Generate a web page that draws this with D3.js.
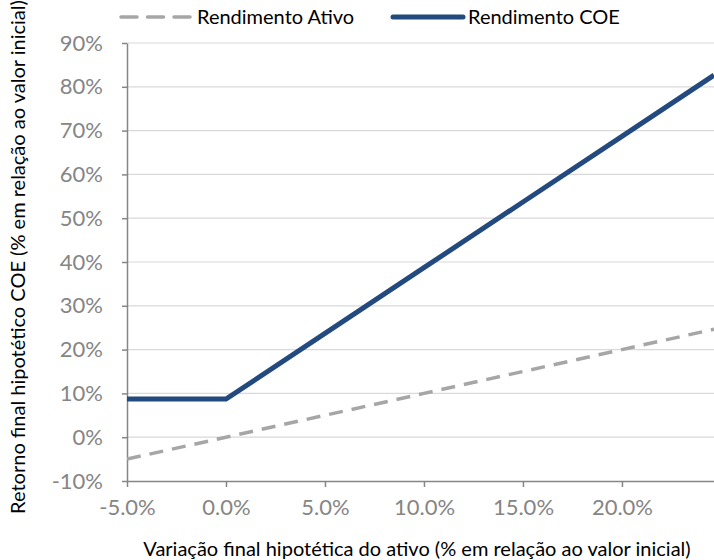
<!DOCTYPE html>
<html><head><meta charset="utf-8">
<script src="https://cdn.jsdelivr.net/npm/d3@7"></script>
<style>body{margin:0;background:#fff;} text{font-family:Lato,"Open Sans",sans-serif;}</style>
</head><body><svg id="c" width="714" height="560"></svg>
<script>
const variacao = [-5, 0, 5, 10, 15, 20, 24.65];
const rendAtivo = [-5, 0, 5, 10, 15, 20, 24.65];
const rendCOE = [8.7, 8.7, 23.7, 38.7, 53.7, 68.7, 82.65];
const yTicks = [-10, 0, 10, 20, 30, 40, 50, 60, 70, 80, 90];
const xTicks = [-5, 0, 5, 10, 15, 20];
const seriesNames = ["Rendimento Ativo", "Rendimento COE"];

const FONT = "Lato, 'Open Sans', sans-serif";
const svg = d3.select("#c");
const L = 127, R = 714, T = 43, B = 481;
const x = d3.scaleLinear().domain([-5, 24.65]).range([L, R]);
const y = d3.scaleLinear().domain([-10, 90]).range([B, T]);

// gridlines
svg.append("g").selectAll("line").data(yTicks.filter(d => d > -10)).join("line")
  .attr("x1", L).attr("x2", R).attr("y1", d => y(d)).attr("y2", d => y(d))
  .attr("stroke", "#d9d9d9").attr("stroke-width", 1.2);

// y axis
const ya = svg.append("g").attr("transform", `translate(${L},0)`)
  .call(d3.axisLeft(y).tickValues(yTicks).tickFormat(d => d + "%").tickSize(5).tickSizeOuter(0));
ya.select(".domain").attr("stroke", "#868686").attr("stroke-width", 1.5);
ya.selectAll(".tick line").attr("stroke", "#868686").attr("stroke-width", 1.5);
ya.selectAll(".tick text").attr("fill", "#858585").attr("font-size", 22).attr("x", -24)
  .attr("font-family", FONT);

// x axis
const xa = svg.append("g").attr("transform", `translate(0,${B})`)
  .call(d3.axisBottom(x).tickValues(xTicks).tickFormat(d => d.toFixed(1) + "%").tickSize(6).tickSizeOuter(0));
xa.select(".domain").attr("stroke", "#868686").attr("stroke-width", 1.5);
xa.selectAll(".tick line").attr("stroke", "#868686").attr("stroke-width", 1.5);
xa.selectAll(".tick text").attr("fill", "#858585").attr("font-size", 22).attr("y", 18)
  .attr("font-family", FONT);

const line = d3.line().x((d, i) => x(variacao[i])).y(d => y(d));
svg.append("clipPath").attr("id", "pc").append("rect")
  .attr("x", L).attr("y", 0).attr("width", R - L).attr("height", 560);

svg.append("path").datum(rendAtivo).attr("d", line).attr("fill", "none")
  .attr("stroke", "#a6a6a6").attr("stroke-width", 3.5).attr("stroke-dasharray", "14,9")
  .attr("clip-path", "url(#pc)");
svg.append("path").datum(rendCOE).attr("d", line).attr("fill", "none")
  .attr("stroke", "#234a7f").attr("stroke-width", 5).attr("clip-path", "url(#pc)");

// legend
const lg = svg.append("g");
lg.append("line").attr("x1", 121).attr("x2", 190).attr("y1", 17).attr("y2", 17)
  .attr("stroke", "#a6a6a6").attr("stroke-width", 3.5).attr("stroke-dasharray", "16,10.5")
  .attr("stroke-linecap", "round");
lg.append("text").attr("x", 197).attr("y", 24).attr("font-size", 20).attr("fill", "#000").text(seriesNames[0]);
lg.append("line").attr("x1", 393).attr("x2", 463).attr("y1", 17).attr("y2", 17)
  .attr("stroke", "#234a7f").attr("stroke-width", 5).attr("stroke-linecap", "round");
lg.append("text").attr("x", 468).attr("y", 24).attr("font-size", 20).attr("fill", "#000").text(seriesNames[1]);

// axis titles
svg.append("text").attr("x", 417).attr("y", 556).attr("text-anchor", "middle")
  .attr("font-size", 20).attr("fill", "#000")
  .text("Variação final hipotética do ativo (% em relação ao valor inicial)");
svg.append("text").attr("transform", "translate(25,257) rotate(-90)").attr("text-anchor", "middle")
  .attr("font-size", 20).attr("fill", "#000")
  .text("Retorno final hipotético COE (% em relação ao valor inicial)");
</script></body></html>
